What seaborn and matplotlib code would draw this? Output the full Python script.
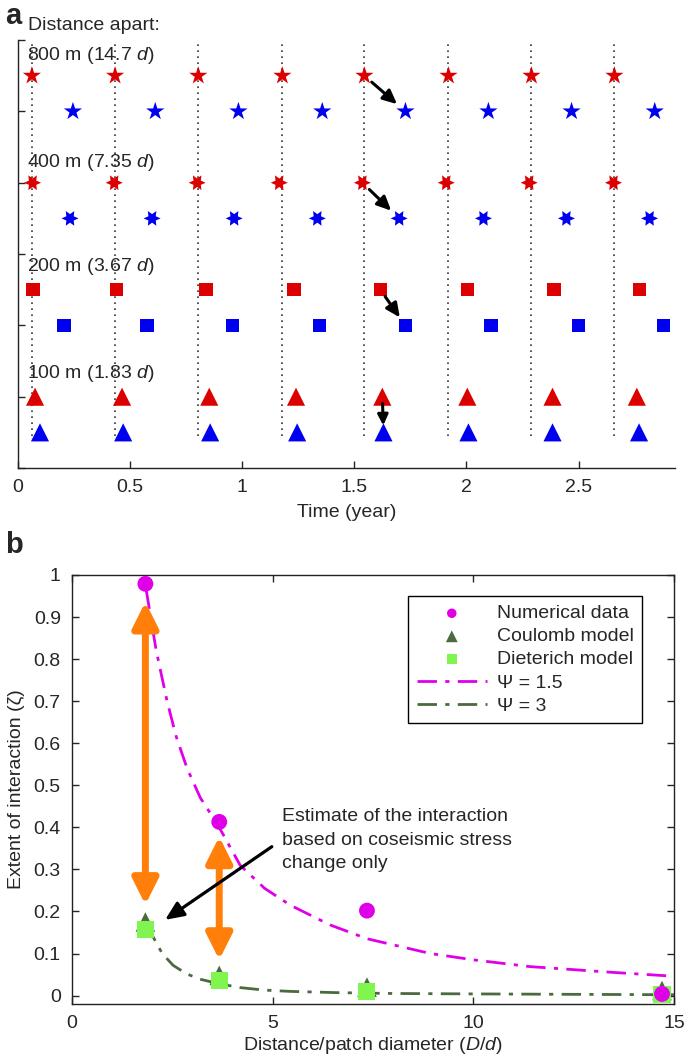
import matplotlib
matplotlib.use("Agg")
import matplotlib.pyplot as plt
import numpy as np
import pandas as pd
import seaborn as sns

# ---- panel a: event times (year) for each patch separation ----
t_red_800 = [0.062, 0.433, 0.804, 1.179, 1.545, 1.920, 2.290, 2.660]
t_blue_800 = [0.245, 0.612, 0.983, 1.357, 1.728, 2.098, 2.469, 2.840]
t_red_400 = [0.065, 0.429, 0.799, 1.165, 1.536, 1.910, 2.280, 2.656]
t_blue_400 = [0.232, 0.598, 0.964, 1.335, 1.700, 2.076, 2.446, 2.817]
t_red_200 = [0.067, 0.440, 0.838, 1.230, 1.616, 2.004, 2.390, 2.772]
t_blue_200 = [0.205, 0.575, 0.957, 1.344, 1.728, 2.110, 2.500, 2.880]
t_red_100 = [0.076, 0.464, 0.853, 1.240, 1.625, 2.004, 2.384, 2.760]
t_blue_100 = [0.098, 0.469, 0.857, 1.245, 1.630, 2.009, 2.384, 2.770]
t_guides = [0.062, 0.433, 0.804, 1.179, 1.545, 1.920, 2.290, 2.660]

groups = ["800 m (14.7 $d$)", "400 m (7.35 $d$)", "200 m (3.67 $d$)", "100 m (1.83 $d$)"]
level_red = [5.5, 4.0, 2.5, 1.0]
level_blue = [5.0, 3.5, 2.0, 0.5]
label_level = [5.78, 4.29, 2.82, 1.33]
time_ticks = [0, 0.5, 1, 1.5, 2, 2.5]
time_ticklabels = ["0", "0.5", "1", "1.5", "2", "2.5"]

# ---- panel b ----
dist_ratio = [1.83, 3.67, 7.35, 14.7]
numerical = [0.979, 0.413, 0.202, 0.004]
coulomb = [0.175, 0.048, 0.020, 0.012]
dieterich = [0.157, 0.036, 0.010, 0.002]
psi15_x = [1.85, 2.1, 2.37, 2.6, 2.87, 3.2, 3.64, 4.19, 4.8, 5.44, 6.43, 7.36, 8.93, 10.0, 11.4, 13.5, 15.0]
psi15_y = [0.965, 0.82, 0.70, 0.615, 0.54, 0.47, 0.405, 0.31, 0.255, 0.215, 0.168, 0.135, 0.10, 0.085, 0.069, 0.055, 0.046]
psi3_x = [1.83, 2.02, 2.25, 2.52, 2.85, 3.19, 3.67, 4.19, 4.8, 5.44, 6.6, 8.0, 10.0, 12.5, 15.0]
psi3_y = [0.17, 0.14, 0.10, 0.072, 0.052, 0.039, 0.028, 0.019, 0.013, 0.010, 0.007, 0.005, 0.004, 0.003, 0.002]
yticks_b = [0, 0.1, 0.2, 0.3, 0.4, 0.5, 0.6, 0.7, 0.8, 0.9, 1.0]
yticklabels_b = ["0", "0.1", "0.2", "0.3", "0.4", "0.5", "0.6", "0.7", "0.8", "0.9", "1"]
gap_x = [1.83, 3.67]
gap_lo = [0.216, 0.085]
gap_hi = [0.936, 0.378]

sns.set_style("ticks")
plt.rcParams["font.family"] = ["Liberation Sans", "DejaVu Sans"]
plt.rcParams["font.size"] = 14
plt.rcParams["mathtext.fontset"] = "custom"
plt.rcParams["mathtext.rm"] = "Liberation Sans"
plt.rcParams["mathtext.it"] = "Liberation Sans:italic"
plt.rcParams["xtick.direction"] = "in"
plt.rcParams["ytick.direction"] = "in"

RED = "#dc0000"
BLUE = "#0000f0"
MAG = "#e000e8"
DKGREEN = "#4b6a3f"
LTGREEN = "#80f550"
ORANGE = "#ff7f0a"

fig = plt.figure(figsize=(6.85, 10.63), dpi=100)
ax1 = fig.add_axes([0.0263, 0.5597, 0.959, 0.4026])
ax2 = fig.add_axes([0.105, 0.0555, 0.879, 0.4036])

# ---------------- panel a ----------------
ax1.vlines(t_guides, 0.45, 6.0, colors="#333333", linestyles=(0, (1, 2.6)), lw=1.2, zorder=1)

hexagram = (6, 1, 30)
markers = [("*", 190), (hexagram, 150), ("s", 95), ("^", 170)]
reds = [t_red_800, t_red_400, t_red_200, t_red_100]
blues = [t_blue_800, t_blue_400, t_blue_200, t_blue_100]
shrinks = [(7, 8), (7, 8), (6, 7), (5, 5)]
heads = ["-|>,head_length=0.6,head_width=0.28", "-|>,head_length=0.6,head_width=0.28",
         "-|>,head_length=0.6,head_width=0.28", "-|>,head_length=0.45,head_width=0.22"]
for i in range(4):
    m, s = markers[i]
    df_r = pd.DataFrame({"t": reds[i], "y": level_red[i]})
    df_b = pd.DataFrame({"t": blues[i], "y": level_blue[i]})
    sns.scatterplot(data=df_r, x="t", y="y", marker=m, s=s, color=RED,
                    edgecolor="none", linewidth=0, ax=ax1, zorder=3)
    sns.scatterplot(data=df_b, x="t", y="y", marker=m, s=s, color=BLUE,
                    edgecolor="none", linewidth=0, ax=ax1, zorder=3)
    ax1.annotate("", xy=(blues[i][4], level_blue[i]), xytext=(reds[i][4], level_red[i]),
                 arrowprops=dict(arrowstyle=heads[i], color="black", lw=2.2,
                                 shrinkA=shrinks[i][0], shrinkB=shrinks[i][1]), zorder=4)
    ax1.text(0.04, label_level[i], groups[i], ha="left", va="center", fontsize=14)

ax1.text(0.045, 6.2, "Distance apart:", ha="left", va="center", fontsize=14, clip_on=False)
ax1.set_xlim(0, 2.93)
ax1.set_ylim(0, 6)
ax1.set_xticks(time_ticks)
ax1.set_xticklabels(time_ticklabels)
ax1.set_yticks(range(7))
ax1.set_yticklabels([])
ax1.tick_params(length=5, width=1, labelsize=14, pad=8)
ax1.set_xlabel("Time (year)", fontsize=14, labelpad=6)
ax1.set_ylabel("")
for sp in ["top", "right"]:
    ax1.spines[sp].set_visible(False)
for sp in ["left", "bottom"]:
    ax1.spines[sp].set_linewidth(1.0)
    ax1.spines[sp].set_color("#222222")

# ---------------- panel b ----------------
sns.lineplot(x=psi15_x, y=psi15_y, color=MAG, lw=2, linestyle=(0, (7, 3, 1.5, 3)),
             ax=ax2, label="Ψ = 1.5", zorder=2, sort=False, estimator=None)
sns.lineplot(x=psi3_x, y=psi3_y, color=DKGREEN, lw=2, linestyle=(0, (7, 3, 1.5, 3)),
             ax=ax2, label="Ψ = 3", zorder=2, sort=False, estimator=None)

for x, lo, hi in zip(gap_x, gap_lo, gap_hi):
    ax2.annotate("", xy=(x, hi), xytext=(x, lo),
                 arrowprops=dict(arrowstyle="<|-|>,head_length=1.1,head_width=0.55",
                                 color=ORANGE, lw=5, shrinkA=0, shrinkB=0), zorder=3)

sns.scatterplot(x=dist_ratio, y=numerical, marker="o", s=130, color=MAG, edgecolor="none",
                ax=ax2, label="Numerical data", zorder=5)
sns.scatterplot(x=dist_ratio, y=coulomb, marker="^", s=200, color=DKGREEN, edgecolor="none",
                ax=ax2, label="Coulomb model", zorder=4)
sns.scatterplot(x=dist_ratio, y=dieterich, marker="s", s=150, color=LTGREEN, edgecolor="none",
                ax=ax2, label="Dieterich model", zorder=4)

ax2.text(5.24, 0.445, "Estimate of the interaction\nbased on coseismic stress\nchange only",
         ha="left", va="top", fontsize=14, linespacing=1.5, zorder=6)
ax2.annotate("", xy=(2.32, 0.18), xytext=(4.98, 0.354),
             arrowprops=dict(arrowstyle="-|>,head_length=0.8,head_width=0.35", color="black",
                             lw=2.3, shrinkA=0, shrinkB=0), zorder=6)

handles, labels = ax2.get_legend_handles_labels()
order = ["Numerical data", "Coulomb model", "Dieterich model", "Ψ = 1.5", "Ψ = 3"]
hmap = dict(zip(labels, handles))
leg = ax2.legend([hmap[k] for k in order], order, loc="upper right",
                 bbox_to_anchor=(0.947, 0.951), borderaxespad=0, fancybox=False,
                 edgecolor="black", framealpha=1, fontsize=14, markerscale=0.6,
                 handlelength=3.6, handletextpad=0.5, labelspacing=0.28,
                 borderpad=0.45)
leg.get_frame().set_linewidth(1.0)

ax2.set_xlim(0, 15)
ax2.set_ylim(-0.02, 1.0)
ax2.set_xticks([0, 5, 10, 15])
ax2.set_yticks(yticks_b)
ax2.set_yticklabels(yticklabels_b)
ax2.tick_params(length=5, width=1, labelsize=14, top=True, right=True, pad=8)
ax2.set_xlabel("Distance/patch diameter ($D$/$d$)", fontsize=14, labelpad=2)
ax2.set_ylabel("Extent of interaction (ζ)", fontsize=14, labelpad=6)
for sp in ax2.spines.values():
    sp.set_linewidth(1.0)
    sp.set_color("#222222")

fig.text(0.007, 0.985, "a", fontsize=21, fontweight="bold", ha="left", va="center")
fig.text(0.007, 0.487, "b", fontsize=21, fontweight="bold", ha="left", va="center")

fig.savefig("out.png", dpi=100)
